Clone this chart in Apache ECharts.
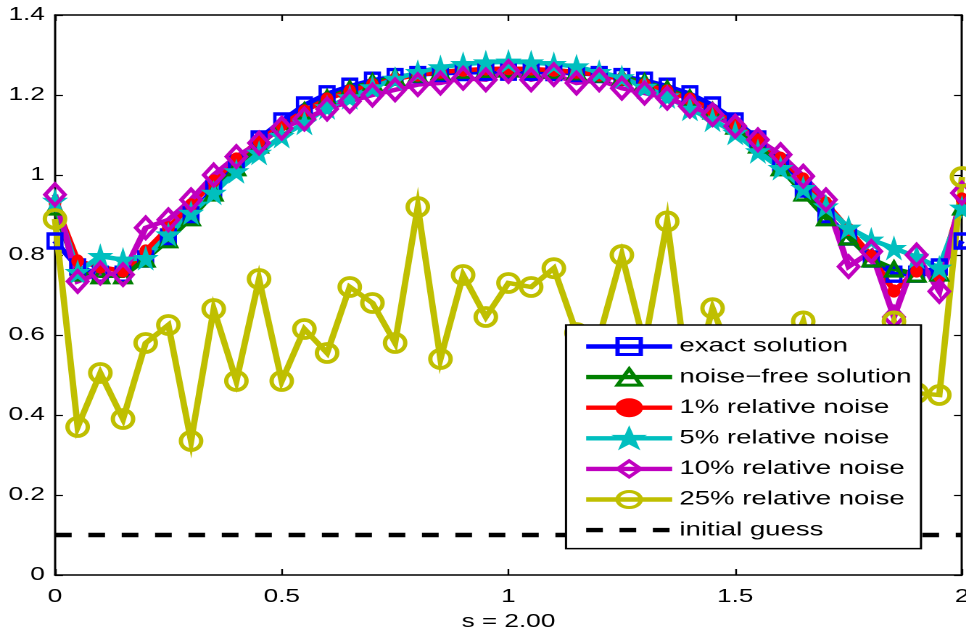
<!DOCTYPE html>
<html>
<head>
<meta charset="utf-8">
<title>s = 2.00</title>
<script src="https://cdn.jsdelivr.net/npm/echarts/dist/echarts.min.js"></script>
<style>
  html, body { margin: 0; padding: 0; background: #fff; overflow: hidden; }
  #wrap { width: 966px; height: 635px; overflow: hidden; position: relative; }
  /* the figure uses a wide sans face: draw on a narrower canvas and stretch it horizontally */
  #chart { width: 666px; height: 635px; transform: scaleX(1.4505); transform-origin: 0 0; }
</style>
</head>
<body>
<div id="wrap"><div id="chart"></div></div>
<script>
// grid of s values
var sGrid = [0, 0.05, 0.1, 0.15, 0.2, 0.25, 0.3, 0.35, 0.4, 0.45, 0.5, 0.55, 0.6, 0.65, 0.7, 0.75, 0.8, 0.85, 0.9, 0.95,
             1, 1.05, 1.1, 1.15, 1.2, 1.25, 1.3, 1.35, 1.4, 1.45, 1.5, 1.55, 1.6, 1.65, 1.7, 1.75, 1.8, 1.85, 1.9, 1.95, 2];

var exactSolution = [0.835, 0.770, 0.752, 0.752, 0.790, 0.845, 0.900, 0.965, 1.030, 1.090, 1.135, 1.175, 1.203, 1.222, 1.237, 1.246, 1.251, 1.254, 1.256, 1.257,
                     1.257, 1.257, 1.256, 1.254, 1.251, 1.246, 1.237, 1.222, 1.203, 1.175, 1.135, 1.090, 1.030, 0.965, 0.900, 0.845, 0.790, 0.752, 0.752, 0.770, 0.835];

var noiseFree = [0.920, 0.755, 0.748, 0.748, 0.790, 0.838, 0.893, 0.955, 1.018, 1.075, 1.122, 1.160, 1.192, 1.215, 1.232, 1.244, 1.252, 1.258, 1.262, 1.264,
                 1.265, 1.264, 1.262, 1.258, 1.252, 1.244, 1.232, 1.215, 1.192, 1.160, 1.122, 1.075, 1.018, 0.955, 0.893, 0.845, 0.790, 0.765, 0.752, 0.755, 0.920];

var noise1 = [0.930, 0.785, 0.770, 0.760, 0.810, 0.868, 0.925, 0.985, 1.040, 1.085, 1.125, 1.160, 1.190, 1.210, 1.226, 1.240, 1.250, 1.257, 1.262, 1.265,
              1.266, 1.265, 1.262, 1.257, 1.250, 1.240, 1.226, 1.210, 1.190, 1.162, 1.128, 1.088, 1.042, 0.990, 0.930, 0.864, 0.797, 0.710, 0.760, 0.747, 0.940];

var noise5 = [0.935, 0.757, 0.797, 0.788, 0.792, 0.851, 0.905, 0.955, 1.009, 1.055, 1.097, 1.130, 1.169, 1.194, 1.219, 1.240, 1.257, 1.269, 1.277, 1.281,
              1.283, 1.281, 1.277, 1.271, 1.257, 1.244, 1.220, 1.196, 1.165, 1.138, 1.105, 1.059, 1.017, 0.967, 0.921, 0.868, 0.838, 0.817, 0.795, 0.768, 0.918];

var noise10 = [0.951, 0.734, 0.755, 0.751, 0.868, 0.888, 0.938, 1.000, 1.046, 1.080, 1.117, 1.140, 1.165, 1.184, 1.200, 1.213, 1.226, 1.230, 1.242, 1.238,
               1.259, 1.238, 1.251, 1.230, 1.238, 1.217, 1.205, 1.192, 1.172, 1.151, 1.122, 1.088, 1.051, 0.997, 0.938, 0.771, 0.809, 0.645, 0.800, 0.709, 0.955];

var noise25 = [0.890, 0.370, 0.505, 0.390, 0.580, 0.625, 0.335, 0.665, 0.485, 0.740, 0.485, 0.615, 0.555, 0.720, 0.680, 0.580, 0.920, 0.540, 0.750, 0.645,
               0.730, 0.720, 0.767, 0.605, 0.595, 0.800, 0.575, 0.884, 0.450, 0.667, 0.520, 0.430, 0.500, 0.634, 0.410, 0.550, 0.470, 0.634, 0.455, 0.450, 0.995];

var guessS = [0, 2];
var initialGuess = [0.1, 0.1];

var seriesNames = ['exact solution', 'noise\u2212free solution', '1% relative noise', '5% relative noise',
                   '10% relative noise', '25% relative noise', 'initial guess'];
var xTitle = 's = 2.00';

var FONT = "'Liberation Sans', Arial, Helvetica, sans-serif";
var STAR = 'path://M50,0L61.2,34.5L97.6,34.5L68.2,55.9L79.4,90.5L50,69.1L20.6,90.5L31.8,55.9L2.4,34.5L38.8,34.5Z';

function pairs(xs, ys) {
  return xs.map(function (x, i) { return [x, ys[i]]; });
}

function curve(name, ys, color, symbol, size, filled, border) {
  return {
    name: name,
    type: 'line',
    data: pairs(sGrid, ys),
    symbol: symbol,
    symbolSize: size,
    showSymbol: true,
    clip: false,
    lineStyle: { color: color, width: 4.4, join: 'miter', miterLimit: 10 },
    itemStyle: { color: filled ? color : 'rgba(0,0,0,0)', borderColor: color, borderWidth: border },
    emphasis: { disabled: true }
  };
}

var axisLineStyle = { color: '#000', width: 1.5 };

var chart = echarts.init(document.getElementById('chart'), null, { renderer: 'canvas', devicePixelRatio: 2 });
chart.setOption({
  animation: false,
  backgroundColor: '#fff',
  grid: { left: 37.9, right: 2.8, top: 15, bottom: 60, containLabel: false, outerBoundsMode: 'none' },
  xAxis: [{
    type: 'value', position: 'bottom', min: 0, max: 2, interval: 0.5,
    axisLine: { show: true, onZero: false, lineStyle: axisLineStyle },
    axisTick: { show: true, inside: true, length: 6, lineStyle: { color: '#000', width: 1.2 } },
    axisLabel: { color: '#000', fontSize: 18, fontFamily: FONT, margin: 13 },
    splitLine: { show: false },
    name: xTitle, nameLocation: 'middle', nameGap: 38,
    nameTextStyle: { color: '#000', fontSize: 18, fontFamily: FONT }
  }, {
    type: 'value', position: 'top', min: 0, max: 2, interval: 0.5,
    axisLine: { show: true, onZero: false, lineStyle: axisLineStyle },
    axisTick: { show: true, inside: true, length: 6, lineStyle: { color: '#000', width: 1.2 } },
    axisLabel: { show: false },
    splitLine: { show: false }
  }],
  yAxis: [{
    type: 'value', position: 'left', min: 0, max: 1.4, interval: 0.2,
    axisLine: { show: true, onZero: false, lineStyle: axisLineStyle },
    axisTick: { show: true, inside: true, length: 5.5, lineStyle: { color: '#000', width: 1.2 } },
    axisLabel: { color: '#000', fontSize: 18, fontFamily: FONT, margin: 7 },
    splitLine: { show: false }
  }, {
    type: 'value', position: 'right', min: 0, max: 1.4, interval: 0.2,
    axisLine: { show: true, onZero: false, lineStyle: axisLineStyle },
    axisTick: { show: true, inside: true, length: 5.5, lineStyle: { color: '#000', width: 1.2 } },
    axisLabel: { show: false },
    splitLine: { show: false }
  }],
  legend: {
    orient: 'vertical',
    left: 390.2, top: 325,
    padding: [12, 6.5, 9, 11.7],
    itemWidth: 59.3, itemHeight: 20, itemGap: 11.6,
    backgroundColor: '#fff', borderColor: '#000', borderWidth: 1.5, borderRadius: 0,
    selectedMode: false,
    textStyle: { color: '#000', fontSize: 19, fontFamily: FONT },
    itemStyle: { borderWidth: 3 },
    lineStyle: { width: 4.4 },
    data: seriesNames
  },
  series: [
    curve(seriesNames[0], exactSolution, '#0000ff', 'rect', [9.5, 14], false, 2.8),
    curve(seriesNames[1], noiseFree, '#008000', 'triangle', [11, 14], false, 2.8),
    curve(seriesNames[2], noise1, '#ff0000', 'circle', [8, 12], true, 1),
    curve(seriesNames[3], noise5, '#00bfbf', STAR, [15, 21], true, 1.2),
    curve(seriesNames[4], noise10, '#bf00bf', 'diamond', [13.5, 21], false, 3.2),
    curve(seriesNames[5], noise25, '#bfbf00', 'circle', [14, 18], false, 3.4),
    {
      name: seriesNames[6],
      type: 'line',
      data: pairs(guessS, initialGuess),
      symbol: 'none',
      showSymbol: false,
      clip: false,
      lineStyle: { color: '#000', width: 4.4, type: [11.5, 11.5] },
      itemStyle: { color: 'rgba(0,0,0,0)', borderColor: 'rgba(0,0,0,0)' },
      emphasis: { disabled: true }
    }
  ]
});
</script>
</body>
</html>
